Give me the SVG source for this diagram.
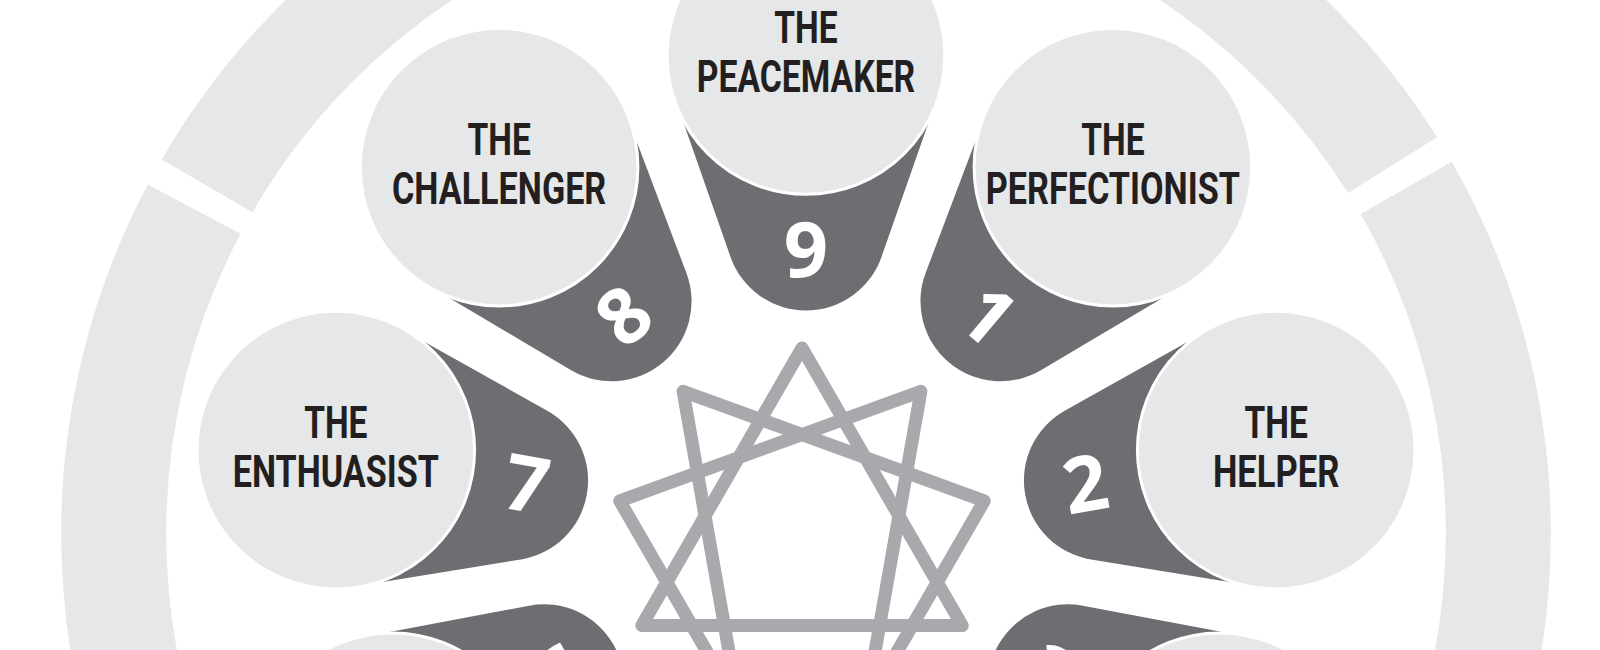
<svg xmlns="http://www.w3.org/2000/svg" xmlns:xlink="http://www.w3.org/1999/xlink" width="1600" height="650" viewBox="0 0 1600 650">
  <style>
    .tail { fill: #6d6e71; }
    .face { fill: #e6e7e8; stroke: #ffffff; stroke-width: 3; }
    .lbl { font-family: Roboto, "Liberation Sans", sans-serif; font-weight: 700; font-size: 44.9px; fill: #231f20; text-anchor: middle; }
    .num { font-family: "Open Sans", "Liberation Sans", sans-serif; font-weight: 700; font-size: 77.6px; fill: #ffffff; text-anchor: middle; }
    .star { fill: none; stroke: #a7a9ac; stroke-width: 13; stroke-linejoin: round; stroke-linecap: round; }
  </style>
  <defs>
    <path id="tail" d="M -130.1,45.5 L -75.5,201.4 A 80 80 0 0 0 75.5,201.4 L 130.1,45.5 A 137.8 137.8 0 1 0 -130.1,45.5 Z"/>
  </defs>
  <rect width="1600" height="650" fill="#ffffff"/>

  <g id="outer-ring">
    <circle cx="806" cy="533" r="692.3" fill="none" stroke="#e6e7e8" stroke-width="105" pathLength="360" stroke-dasharray="117.8 2.2" stroke-dashoffset="29.9"/>
  </g>

  <g id="connectors">
    <polygon class="star" points="802,348 962.2,625.5 641.8,625.5"/>
    <polygon class="star" points="920.9,391.3 865.3,706.8 984.2,500.9 683.1,391.3 738.7,706.8 619.8,500.9"/>
  </g>

  <g id="node-9">
    <use xlink:href="#tail" class="tail" transform="translate(806,55.5) rotate(0)"/>
    <circle class="face" cx="806" cy="55.5" r="138.8"/>
    <text class="lbl" x="806" y="43.3" textLength="63.3" lengthAdjust="spacingAndGlyphs">THE</text>
    <text class="lbl" x="806" y="91.5" textLength="218.4" lengthAdjust="spacingAndGlyphs">PEACEMAKER</text>
    <text class="num" transform="translate(806,249.4) rotate(0)" x="0" y="27.6">9</text>
  </g>

  <g id="node-1">
    <use xlink:href="#tail" class="tail" transform="translate(1112.9,167.2) rotate(40)"/>
    <circle class="face" cx="1112.9" cy="167.2" r="138.8"/>
    <text class="lbl" x="1112.9" y="155" textLength="63.3" lengthAdjust="spacingAndGlyphs">THE</text>
    <text class="lbl" x="1112.9" y="203.5" textLength="254.1" lengthAdjust="spacingAndGlyphs">PERFECTIONIST</text>
    <text class="num" transform="translate(988.3,315.7) rotate(40)" x="0" y="27.6">1</text>
  </g>

  <g id="node-2">
    <use xlink:href="#tail" class="tail" transform="translate(1276.2,450.1) rotate(80)"/>
    <circle class="face" cx="1276.2" cy="450.1" r="138.8"/>
    <text class="lbl" x="1276.2" y="437.9" textLength="63.3" lengthAdjust="spacingAndGlyphs">THE</text>
    <text class="lbl" x="1276.2" y="486.5" textLength="126.5" lengthAdjust="spacingAndGlyphs">HELPER</text>
    <text class="num" transform="translate(1085.3,483.8) rotate(-10)" x="0" y="27.6">2</text>
  </g>

  <g id="node-3">
    <use xlink:href="#tail" class="tail" transform="translate(1219.5,771.75) rotate(120)"/>
    <circle class="face" cx="1219.5" cy="771.75" r="138.8"/>
    <text class="num" transform="translate(1051.6,674.8) rotate(30)" x="0" y="27.6">3</text>
  </g>

  <g id="node-6">
    <use xlink:href="#tail" class="tail" transform="translate(392.5,771.75) rotate(240)"/>
    <circle class="face" cx="392.5" cy="771.75" r="138.8"/>
    <text class="num" transform="translate(560.4,674.8) rotate(-30)" x="0" y="27.6">6</text>
  </g>

  <g id="node-7">
    <use xlink:href="#tail" class="tail" transform="translate(335.8,450.1) rotate(280)"/>
    <circle class="face" cx="335.8" cy="450.1" r="138.8"/>
    <text class="lbl" x="335.8" y="437.9" textLength="63.3" lengthAdjust="spacingAndGlyphs">THE</text>
    <text class="lbl" x="335.8" y="486.5" textLength="206.1" lengthAdjust="spacingAndGlyphs">ENTHUASIST</text>
    <text class="num" transform="translate(526.7,483.8) rotate(10)" x="0" y="27.6">7</text>
  </g>

  <g id="node-8">
    <use xlink:href="#tail" class="tail" transform="translate(499.1,167.2) rotate(320)"/>
    <circle class="face" cx="499.1" cy="167.2" r="138.8"/>
    <text class="lbl" x="499.1" y="155" textLength="63.3" lengthAdjust="spacingAndGlyphs">THE</text>
    <text class="lbl" x="499.1" y="203.5" textLength="214.3" lengthAdjust="spacingAndGlyphs">CHALLENGER</text>
    <text class="num" transform="translate(623.7,315.7) rotate(-40)" x="0" y="27.6">8</text>
  </g>
</svg>
